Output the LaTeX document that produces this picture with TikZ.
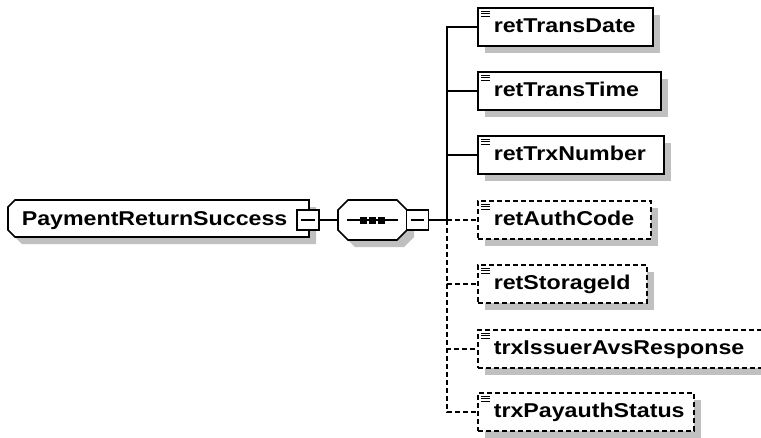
\documentclass[tikz,border=0pt]{standalone}
\usepackage{fontspec}
\setmainfont{Liberation Sans}[FakeStretch=1.16]
\usetikzlibrary{shadows,calc}
\definecolor{shade}{HTML}{C0C0C0}
\begin{document}
\begin{tikzpicture}[x=1pt,y=-1pt,line width=1.6pt,
  lbl/.style={font=\fontsize{20}{22}\selectfont\bfseries},
  boxshadow/.style={drop shadow={shadow xshift=7pt,shadow yshift=-7pt,fill=shade,opacity=1}},
  elem/.style={lbl,draw,fill=white,boxshadow,anchor=west,align=left,
    text width=#1,inner xsep=16pt,inner ysep=0pt,minimum height=38pt,
    text height=14pt,text depth=4pt},
  optelem/.style={elem=#1,dash pattern=on 5pt off 3pt},
  collapse/.style={draw,fill=white,minimum width=22pt,minimum height=20pt,inner sep=0pt},
  optline/.style={dash pattern=on 5pt off 3pt}]
\useasboundingbox (0,0) rectangle (761,437);

% root element outline (chamfered on the left)
\filldraw[fill=white,boxshadow] (15,200) -- (309,200) -- (309,237) -- (15,237)
  -- (8,230) -- (8,207) -- cycle;
\node[lbl,anchor=west,inner sep=0pt,text height=14pt,text depth=4pt] (root) at (21,220) {PaymentReturnSuccess};
\node[collapse] (rootc) at (308,220) {};
\draw ([xshift=5pt]rootc.west) -- ([xshift=-5pt]rootc.east);

% sequence compositor
\filldraw[fill=white,boxshadow] (348,200) -- (397,200) -- (407,210) -- (407,230)
  -- (397,240) -- (348,240) -- (338,230) -- (338,210) -- cycle;
\node[minimum width=69pt,minimum height=40pt,inner sep=0pt] (seq) at (372.5,220) {};
\draw[line width=1.2pt] (347,220) -- (398,220);
\fill (360,216.5) rectangle (367,223.5);
\fill (369,216.5) rectangle (376,223.5);
\fill (378,216.5) rectangle (385,223.5);
\node[collapse] (seqc) at (417.5,220) {};
\draw ([xshift=5pt]seqc.west) -- ([xshift=-5pt]seqc.east);

\draw (rootc.east) -- (seq.west);

% child elements
\node[elem=143pt]    (c1) at (477,27)  {retTransDate};
\node[elem=151pt]    (c2) at (477,91)  {retTransTime};
\node[elem=154pt]    (c3) at (477,155) {retTrxNumber};
\node[optelem=141pt] (c4) at (477,220) {retAuthCode};
\node[optelem=137pt] (c5) at (477,284) {retStorageId};
\node[optelem=255pt] (c6) at (477,349) {trxIssuerAvsResponse};
\node[optelem=184pt] (c7) at (477,412) {trxPayauthStatus};

% simple-type marks
\foreach \n in {c1,c2,c3,c4,c5,c6,c7}
  \draw[line width=1.1pt] ($(\n.north west)+(4,4)$) -- ++(9,0)
    ++(-9,2.6) -- ++(9,0) ++(-9,2.6) -- ++(9,0);

% connectors
\coordinate (bus) at (447,220);
\draw (seqc.east) -- (bus);
\foreach \n in {c1,c2,c3}
  \draw (bus) |- (\n.west);
\foreach \n in {c4,c5,c6,c7}
  \draw[optline] (bus) |- (\n.west);
\end{tikzpicture}
\end{document}
